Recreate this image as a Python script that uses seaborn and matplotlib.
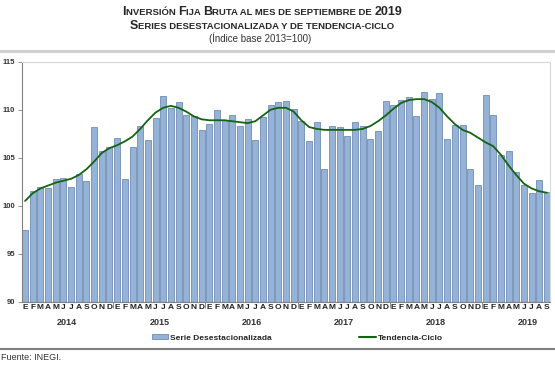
import matplotlib
matplotlib.use('Agg')
import matplotlib.pyplot as plt
from matplotlib.patches import Patch
from matplotlib.lines import Line2D
import numpy as np
import pandas as pd
import seaborn as sb

# Monthly index, base 2013=100 (Jan 2014 .. Sep 2019)
months = ['E', 'F', 'M', 'A', 'M', 'J', 'J', 'A', 'S', 'O', 'N', 'D']
years = ['2014', '2015', '2016', '2017', '2018', '2019']

serie = [
  97.5, 101.5, 101.9, 101.8, 102.8, 102.9, 102.0, 103.3, 102.6, 108.2, 105.7, 106.1,   # 2014
  107.1, 102.8, 106.1, 108.3, 106.8, 109.1, 111.4, 110.2, 110.8, 109.5, 109.3, 107.9,  # 2015
  108.5, 110.0, 108.9, 109.4, 108.3, 109.0, 106.8, 109.2, 110.5, 110.8, 110.9, 110.1,  # 2016
  108.8, 106.7, 108.7, 103.8, 108.3, 108.2, 107.3, 108.7, 108.3, 107.0, 107.8, 110.9,  # 2017
  110.5, 111.0, 111.3, 109.3, 111.8, 111.1, 111.7, 107.0, 108.4, 108.4, 103.8, 102.2,  # 2018
  111.5, 109.5, 105.3, 105.7, 103.5, 102.2, 101.3, 102.7, 101.4                        # 2019
]

tendencia = [
  100.5, 101.3, 101.8, 102.1, 102.4, 102.6, 102.8, 103.2, 103.8, 104.6, 105.5, 106.0,
  106.3, 106.7, 107.2, 108.0, 108.9, 109.7, 110.2, 110.4, 110.2, 109.8, 109.3, 109.0,
  108.9, 108.9, 108.9, 108.8, 108.7, 108.6, 108.8, 109.4, 110.0, 110.2, 110.2, 109.8,
  108.9, 108.2, 108.0, 107.9, 107.9, 107.9, 107.9, 107.9, 108.0, 108.3, 108.8, 109.4,
  110.1, 110.7, 111.0, 111.1, 111.1, 110.8, 110.2, 109.3, 108.5, 107.9, 107.6, 107.1,
  106.6, 106.2, 105.3, 104.2, 103.2, 102.3, 101.8, 101.5, 101.35
]

BAR_COLOR = '#95b3d7'
BAR_EDGE = '#5f7ea8'
LINE_COLOR = '#136313'
TITLE_CENTER = 262 / 555

df = pd.DataFrame({'pos': np.arange(len(serie)), 'serie': serie, 'tendencia': tendencia})

sb.set_style('white')
plt.rcParams['font.family'] = ['Liberation Sans', 'DejaVu Sans']

figure = plt.figure(figsize=(5.55, 3.66), dpi=100)
axis = figure.add_axes([22 / 555, 64.3 / 366, 528 / 555, 240 / 366])

sb.barplot(data=df, x='pos', y='serie', color=BAR_COLOR, width=0.78,
           edgecolor=BAR_EDGE, linewidth=0.5, saturation=1, ax=axis)
sb.lineplot(data=df, x='pos', y='tendencia', color=LINE_COLOR, linewidth=1.3, ax=axis)

axis.set_ylim(90, 115)
axis.set_xlim(-0.4, len(serie) - 0.6)
axis.set_yticks([90, 95, 100, 105, 110, 115])
axis.set_yticklabels(['90', '95', '100', '105', '110', '115'], fontsize=5.5, fontweight='bold', color='#333333')
axis.set_xticks(np.arange(len(serie)))
axis.set_xticklabels([months[i % 12] for i in range(len(serie))], fontsize=6, fontweight='bold', color='#222222')
axis.tick_params(axis='x', length=0, pad=2)
axis.tick_params(axis='y', length=3, width=0.6, color='#808080', pad=2, left=True)
axis.set_xticks(np.arange(11.5, len(serie), 12), minor=True)
axis.tick_params(axis='x', which='minor', length=4, width=0.6, color='#808080', bottom=True)
axis.set_xlabel('')
axis.set_ylabel('')

for side in ['top', 'right']:
  axis.spines[side].set_color('#d9d9d9')
  axis.spines[side].set_linewidth(0.8)
for side in ['left', 'bottom']:
  axis.spines[side].set_color('#808080')
  axis.spines[side].set_linewidth(0.8)

# Year labels centred under each year (between J and J)
for k, year in enumerate(years):
  axis.text(k * 12 + 5.5, -0.066, year, transform=axis.get_xaxis_transform(),
            ha='center', va='top', fontsize=6.5, fontweight='bold', color='#333333')

# Small caps style titles
def small_caps(y, parts):
  renderer = figure.canvas.get_renderer()
  texts = [figure.text(0, y, s, fontsize=fs, fontweight='bold', color='#262626', va='baseline')
           for s, fs in parts]
  widths = [t.get_window_extent(renderer).width for t in texts]
  x = TITLE_CENTER * figure.bbox.width - sum(widths) / 2
  for t, w in zip(texts, widths):
    t.set_x(x / figure.bbox.width)
    x += w

small_caps(1 - 15 / 366, [('I', 9), ('NVERSIÓN ', 6.8), ('F', 9), ('IJA ', 6.8), ('B', 9),
                          ('RUTA AL MES DE SEPTIEMBRE DE ', 6.8), ('2019', 9)])
small_caps(1 - 29 / 366, [('S', 9), ('ERIES DESESTACIONALIZADA Y DE TENDENCIA-CICLO', 6.8)])
figure.text(260 / 555, 1 - 38 / 366, '(Índice base 2013=100)', ha='center', va='center',
            fontsize=7, color='#333333')

# Separator rules
figure.add_artist(Line2D([0, 1], [1 - 51 / 366, 1 - 51 / 366], color='#cfcfcf', linewidth=2.2))
figure.add_artist(Line2D([0, 1], [1 - 348.5 / 366, 1 - 348.5 / 366], color='#7f7f7f', linewidth=1.5))

# Legend
handles = [Patch(facecolor=BAR_COLOR, edgecolor=BAR_EDGE, linewidth=0.5),
           Line2D([0], [0], color=LINE_COLOR, linewidth=1.5)]
figure.legend(handles, ['Serie Desestacionalizada', 'Tendencia-Ciclo'], ncol=2,
              loc='center', bbox_to_anchor=(297 / 555, 1 - 338 / 366), frameon=False,
              prop={'size': 6, 'weight': 'bold'}, handlelength=2.0, handleheight=0.5,
              handletextpad=0.2, columnspacing=10.5)

figure.text(1 / 555, 1 - 357 / 366, 'Fuente: INEGI.', ha='left', va='center', fontsize=6.5, color='#333333')

plt.savefig('out.png', dpi=100)
plt.close()
